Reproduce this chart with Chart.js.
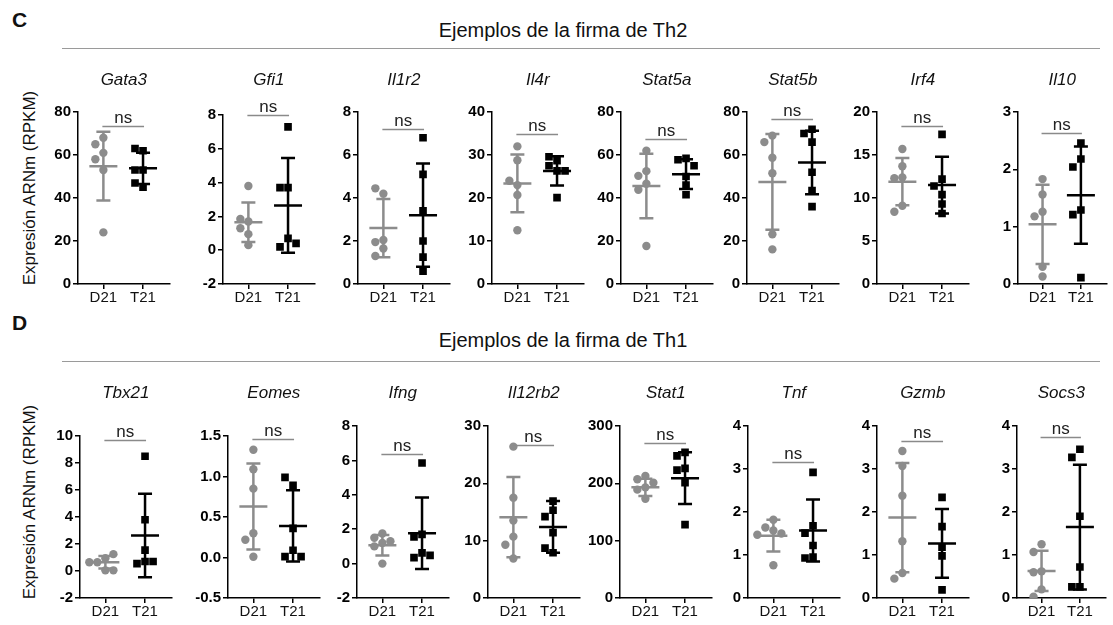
<!DOCTYPE html>
<html>
<head>
<meta charset="utf-8">
<script src="https://cdn.jsdelivr.net/npm/chart.js@4/dist/chart.umd.min.js"></script>
<style>
  body { margin: 0; width: 1113px; height: 625px; position: relative; background: #fff; overflow: hidden;
         font-family: Arial, "Liberation Sans", sans-serif; color: #111; }
  .panel { position: absolute; font-weight: bold; font-size: 21px; line-height: 1; }
  .head { position: absolute; left: 0; width: 1126px; text-align: center; font-size: 20px; line-height: 1; }
  .rule { position: absolute; left: 62px; width: 1038px; height: 1px; background: #9a9a9a; }
  .ylab { position: absolute; width: 240px; text-align: center; font-size: 17px; line-height: 20px;
          white-space: nowrap; transform: rotate(-90deg); }
  canvas { position: absolute; }
</style>
</head>
<body>
<div class="panel" style="left:12px;top:9px">C</div>
<div class="head" style="top:20px">Ejemplos de la firma de Th2</div>
<div class="rule" style="top:48px"></div>
<div class="ylab" style="left:-90px;top:178px">Expresión ARNm (RPKM)</div>

<div class="panel" style="left:12px;top:312px">D</div>
<div class="head" style="top:330px">Ejemplos de la firma de Th1</div>
<div class="rule" style="top:361px"></div>
<div class="ylab" style="left:-90px;top:492px">Expresión ARNm (RPKM)</div>

<script>
// grupos y genes
const groups = ['D21', 'T21'];
const genesTh2 = ['Gata3', 'Gfi1', 'Il1r2', 'Il4r', 'Stat5a', 'Stat5b', 'Irf4', 'Il10'];
const genesTh1 = ['Tbx21', 'Eomes', 'Ifng', 'Il12rb2', 'Stat1', 'Tnf', 'Gzmb', 'Socs3'];

// ejes Y (mismo orden: Th2 y luego Th1)
const yMin  = [0, -2, 0, 0, 0, 0, 0, 0,   -2, -0.5, -2, 0, 0, 0, 0, 0];
const yMax  = [80, 8, 8, 40, 80, 80, 20, 3,   10, 1.5, 8, 30, 300, 4, 4, 4];
const yStep = [20, 2, 2, 10, 20, 20, 5, 1,    2, 0.5, 2, 10, 100, 1, 1, 1];

// valores individuales (RPKM)
const d21Values = [
  [68, 61, 65, 58, 53, 24],
  [3.8, 1.7, 1.85, 1.3, 0.95, 0.3],
  [4.2, 4.45, 2.05, 1.95, 1.65, 1.3],
  [32, 28.8, 23, 24, 20.7, 12.5],
  [62, 52.5, 50.3, 46.6, 43.8, 17.7],
  [69, 66, 58.7, 51.5, 23.1, 16.1],
  [15.7, 13.7, 12.4, 12.3, 9.1, 8.4],
  [1.83, 1.56, 1.26, 1.18, 0.3, 0.13],
  [0.95, 0.65, 1.25, 0.65, 0.05, 0.05],
  [1.33, 1.09, 0.85, 0.3, 0.22, 0.01],
  [1.75, 1.5, 1.3, 1.2, 1.0, 0.0],
  [26.4, 17.5, 13.5, 10.7, 9.3, 6.9],
  [213, 207, 193, 201, 189, 173],
  [1.82, 1.64, 1.57, 1.5, 1.47, 0.76],
  [3.42, 3.07, 2.38, 1.32, 0.58, 0.45],
  [1.25, 1.07, 0.62, 0.6, 0.2, 0.03]
];
const t21Values = [
  [62, 63, 53, 53, 45, 47],
  [7.3, 3.7, 3.7, 0.7, 0.2, 0.4],
  [6.8, 5.1, 3.4, 2.0, 1.25, 0.6],
  [28.7, 29.6, 27.5, 26.3, 26.3, 20.1],
  [58.4, 57.8, 55, 50, 46, 41.5],
  [72, 70, 66, 52, 43.5, 36],
  [17.4, 12.2, 11.4, 10.4, 9.3, 8.2],
  [2.46, 2.18, 2.04, 1.29, 1.21, 0.11],
  [8.5, 3.8, 1.55, 0.7, 0.55, 0.7],
  [0.89, 0.99, 0.36, 0.09, 0.01, 0.01],
  [5.85, 1.7, 1.55, 0.62, 0.35, 0.48],
  [16.9, 15.3, 14.2, 11.4, 7.9, 8.7],
  [254, 248, 226, 223, 201, 128],
  [2.92, 1.68, 1.51, 1.22, 0.95, 0.93],
  [2.34, 1.66, 1.18, 0.98, 0.19],
  [3.46, 3.27, 1.9, 0.72, 0.26, 0.26]
];

// media y desviación estándar
const d21Mean = [54.8, 1.65, 2.6, 23.4, 45.6, 47.5, 11.9, 1.04,   0.65, 0.63, 1.07, 14.1, 193, 1.45, 1.87, 0.63];
const d21Sd   = [16, 1.17, 1.35, 6.7, 15, 22.3, 2.75, 0.69,      0.47, 0.53, 0.6, 7, 15, 0.37, 1.27, 0.47];
const t21Mean = [53.8, 2.65, 3.2, 26.3, 51.1, 56.5, 11.5, 1.55,   2.63, 0.39, 1.76, 12.4, 209, 1.57, 1.27, 1.65];
const t21Sd   = [7.3, 2.8, 2.4, 3.4, 6.9, 14.8, 3.3, 0.85,       3.1, 0.44, 2.08, 4.5, 45, 0.72, 0.8, 1.45];

// altura de la barra "ns"
const nsLevel = [73.6, 8, 7.2, 34.8, 67.4, 76.6, 18.4, 2.63,   9.7, 1.46, 6.4, 26.6, 270, 3.16, 3.64, 3.75];

// --- maquetación ---
const YW = 40, XH = 30, PADTOP = 50;
const X_MIN = -0.64, X_MAX = 1.67;
const rows = [
  { genes: genesTh2, axisX: [78, 223, 358, 492, 621, 747, 877, 1018],
    plotTop: [112, 115, 112, 112, 112, 112, 112, 112], plotBottom: 284, titleY: 80 },
  { genes: genesTh1, axisX: [80, 228, 357, 488, 620, 748, 877, 1017],
    plotTop: [436, 436, 426, 426, 426, 426, 426, 426], plotBottom: 598, titleY: 393 }
];
const GREY = '#8c8c8c';

// reparte los puntos como en un "beeswarm" para que no se tapen
function swarm(vals, g, pyu, pxu, d) {
  const placed = [];
  return vals.map(v => {
    const yy = v * pyu;
    let off = 0;
    for (const k of [0, -1, 1, -2, 2, -3, 3]) {
      const xx = k * d;
      if (placed.every(p => Math.hypot(p.x - xx, p.y - yy) >= d)) { off = xx; break; }
    }
    placed.push({ x: off, y: yy });
    return { x: g + off / pxu, y: v };
  });
}

const errorBars = {
  id: 'errorBars',
  afterDatasetsDraw(chart, args, opts) {
    const { ctx, scales: { x, y } } = chart;
    opts.bars.forEach(b => {
      const cx = x.getPixelForValue(b.pos);
      const ym = y.getPixelForValue(b.mean);
      const yt = y.getPixelForValue(b.mean + b.sd);
      const yb = y.getPixelForValue(b.mean - b.sd);
      ctx.save();
      ctx.strokeStyle = b.color;
      ctx.lineWidth = 2.5;
      ctx.beginPath();
      ctx.moveTo(cx, yt); ctx.lineTo(cx, yb);
      ctx.moveTo(cx - 7, yt); ctx.lineTo(cx + 7, yt);
      ctx.moveTo(cx - 7, yb); ctx.lineTo(cx + 7, yb);
      ctx.moveTo(cx - 14, ym); ctx.lineTo(cx + 14, ym);
      ctx.stroke();
      ctx.restore();
    });
  }
};

const labels = {
  id: 'labels',
  afterDraw(chart, args, opts) {
    const { ctx, chartArea, scales: { x, y } } = chart;
    const x0 = x.getPixelForValue(0), x1 = x.getPixelForValue(1);
    const yl = Math.round(y.getPixelForValue(opts.ns)) + 0.5;
    ctx.save();
    ctx.strokeStyle = '#8a8a8a';
    ctx.lineWidth = 1.5;
    ctx.beginPath();
    ctx.moveTo(x0 - 1, yl); ctx.lineTo(x1 + 1, yl);
    ctx.stroke();
    ctx.fillStyle = '#222';
    ctx.textAlign = 'center';
    ctx.textBaseline = 'alphabetic';
    ctx.font = '17px Arial, "Liberation Sans", sans-serif';
    ctx.fillText('ns', (x0 + x1) / 2, yl - 4);
    ctx.textBaseline = 'middle';
    ctx.fillStyle = '#111';
    ctx.font = 'italic 17px Arial, "Liberation Sans", sans-serif';
    ctx.fillText(opts.title, (chartArea.left + chartArea.right) / 2, opts.titleY);
    ctx.restore();
  }
};

const axisStyle = {
  grid: { drawOnChartArea: false, drawTicks: true, tickLength: 5, color: '#000', lineWidth: 1.5 },
  border: { color: '#000', width: 1.5 }
};

let idx = 0;
rows.forEach(row => {
  row.genes.forEach((gene, j) => {
    const i = idx++;
    const plotW = j === 7 ? 94 : 97;
    const plotH = row.plotBottom - row.plotTop[j];
    const left = row.axisX[j] - YW;
    const top = row.plotTop[j] - PADTOP;
    const width = YW + plotW, height = PADTOP + plotH + XH;

    const canvas = document.createElement('canvas');
    canvas.width = width; canvas.height = height;
    canvas.style.left = left + 'px'; canvas.style.top = top + 'px';
    canvas.style.width = width + 'px'; canvas.style.height = height + 'px';
    document.body.appendChild(canvas);

    const pyu = plotH / (yMax[i] - yMin[i]);
    const pxu = plotW / (X_MAX - X_MIN);
    const step = yStep[i];

    new Chart(canvas.getContext('2d'), {
      type: 'scatter',
      data: {
        datasets: [
          { label: groups[0], data: swarm(d21Values[i], 0, pyu, pxu, 8.5),
            pointStyle: 'circle', pointRadius: 4.2, pointHoverRadius: 4.2,
            backgroundColor: GREY, borderWidth: 0 },
          { label: groups[1], data: swarm(t21Values[i], 1, pyu, pxu, 8.5),
            pointStyle: 'rect', pointRadius: 5.4, pointHoverRadius: 5.4,
            backgroundColor: '#000', borderWidth: 0 }
        ]
      },
      options: {
        responsive: false,
        animation: false,
        devicePixelRatio: 1,
        layout: { padding: { top: PADTOP, left: 0, right: 0, bottom: 0 } },
        plugins: {
          legend: { display: false },
          tooltip: { enabled: false },
          errorBars: { bars: [
            { pos: 0, mean: d21Mean[i], sd: d21Sd[i], color: GREY },
            { pos: 1, mean: t21Mean[i], sd: t21Sd[i], color: '#000' }
          ] },
          labels: { ns: nsLevel[i], title: gene, titleY: row.titleY - top }
        },
        scales: {
          x: {
            type: 'linear', min: X_MIN, max: X_MAX,
            afterBuildTicks: s => { s.ticks = groups.map((g, k) => ({ value: k })); },
            afterFit: s => { s.height = XH; },
            ticks: { callback: v => groups[v], color: '#111', padding: 0, maxRotation: 0, autoSkip: false,
                     font: { size: 15, family: 'Arial, "Liberation Sans", sans-serif' } },
            ...axisStyle
          },
          y: {
            min: yMin[i], max: yMax[i],
            afterFit: s => { s.width = YW; },
            ticks: { stepSize: step, color: '#000', padding: 2,
                     callback: v => step < 1 ? v.toFixed(1) : v,
                     font: { size: 15, weight: 'bold', family: 'Arial, "Liberation Sans", sans-serif' } },
            ...axisStyle
          }
        }
      },
      plugins: [errorBars, labels]
    });
  });
});
</script>
</body>
</html>
